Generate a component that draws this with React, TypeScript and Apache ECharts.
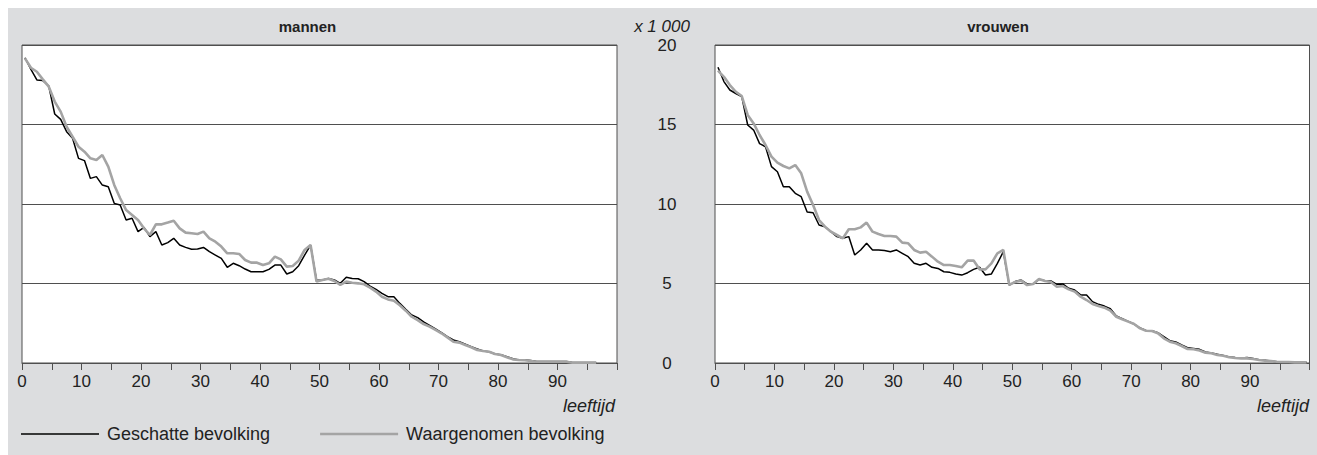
import React, { useEffect, useRef } from "react";
import * as echarts from "echarts";

const FONT = "'Liberation Sans', Arial, Helvetica, sans-serif";

const titles = ["mannen", "vrouwen"];
const seriesNames = ["Geschatte bevolking", "Waargenomen bevolking"];
const yTicks = [0, 5, 10, 15, 20];
const xLabelValues = [0, 10, 20, 30, 40, 50, 60, 70, 80, 90];
const unitLabel = "x 1 000";
const xName = "leeftijd";

// Values x 1 000, by age (0, 1, 2, ...)
const menEstimated = [
  19.2, 18.47, 17.8, 17.76, 17.42, 15.66, 15.32, 14.55, 14.13, 12.87,
  12.73, 11.61, 11.72, 11.19, 11.09, 10.04, 9.94, 8.99, 9.1, 8.26,
  8.53, 7.95, 8.26, 7.42, 7.57, 7.84, 7.42, 7.27, 7.15, 7.17,
  7.27, 7.0, 6.79, 6.58, 6.02, 6.27, 6.12, 5.91, 5.74, 5.74,
  5.74, 5.89, 6.16, 6.16, 5.6, 5.74, 6.12, 6.79, 7.42, 5.2,
  5.22, 5.32, 5.22, 5.01, 5.39, 5.32, 5.3, 5.12, 4.84, 4.63,
  4.38, 4.17, 4.17, 3.75, 3.38, 3.02, 2.85, 2.58, 2.37, 2.14,
  1.91, 1.66, 1.45, 1.34, 1.19, 1.03, 0.88, 0.75, 0.71, 0.57,
  0.52, 0.4, 0.27, 0.19, 0.19, 0.15, 0.1, 0.1, 0.1, 0.1,
  0.1, 0.1, 0.03, 0.03, 0.03, 0.03, 0.03,
];
const menObserved = [
  19.16, 18.57, 18.32, 17.84, 17.38, 16.44, 15.81, 14.86, 14.23, 13.6,
  13.29, 12.87, 12.77, 13.08, 12.35, 11.2, 10.36, 9.62, 9.31, 9.0,
  8.47, 8.05, 8.72, 8.72, 8.83, 8.95, 8.47, 8.2, 8.16, 8.11,
  8.26, 7.84, 7.63, 7.32, 6.9, 6.9, 6.86, 6.48, 6.31, 6.31,
  6.16, 6.27, 6.69, 6.52, 6.06, 6.1, 6.44, 7.11, 7.42, 5.12,
  5.22, 5.3, 5.16, 4.91, 5.12, 5.05, 5.01, 4.95, 4.74, 4.49,
  4.17, 4.0, 3.92, 3.63, 3.29, 2.91, 2.7, 2.45, 2.29, 2.08,
  1.87, 1.61, 1.34, 1.28, 1.13, 0.99, 0.82, 0.75, 0.71, 0.57,
  0.5, 0.36, 0.23, 0.19, 0.17, 0.13, 0.08, 0.08, 0.08, 0.08,
  0.08, 0.08, 0.02, 0.02, 0.02, 0.02, 0.02,
];
const womenEstimated = [
  18.6, 17.7, 17.17, 16.95, 16.75, 14.97, 14.65, 13.8, 13.6, 12.35,
  12.03, 11.09, 11.09, 10.67, 10.46, 9.5, 9.45, 8.68, 8.57, 8.26,
  7.95, 7.84, 7.95, 6.79, 7.11, 7.53, 7.11, 7.11, 7.07, 7.0,
  7.11, 6.9, 6.69, 6.27, 6.16, 6.27, 6.02, 5.95, 5.74, 5.7,
  5.6, 5.53, 5.68, 5.89, 6.02, 5.53, 5.6, 6.27, 7.0, 4.9,
  5.12, 5.22, 4.97, 4.95, 5.26, 5.18, 5.16, 4.95, 4.97, 4.7,
  4.59, 4.28, 4.28, 3.86, 3.69, 3.58, 3.42, 2.96, 2.79, 2.62,
  2.45, 2.2, 2.05, 2.03, 1.91, 1.66, 1.4, 1.32, 1.13, 0.96,
  0.92, 0.86, 0.69, 0.63, 0.55, 0.48, 0.38, 0.34, 0.31, 0.34,
  0.29, 0.21, 0.17, 0.13, 0.08, 0.06, 0.06, 0.04, 0.04, 0.04,
];
const womenObserved = [
  18.39, 18.0, 17.48, 17.06, 16.79, 15.6, 15.07, 14.34, 13.71, 12.98,
  12.6, 12.39, 12.24, 12.45, 11.93, 10.78, 9.94, 8.99, 8.57, 8.26,
  8.05, 7.84, 8.41, 8.41, 8.53, 8.83, 8.26, 8.11, 7.99, 7.99,
  7.95, 7.57, 7.53, 7.11, 6.94, 7.0, 6.69, 6.37, 6.16, 6.16,
  6.1, 6.02, 6.44, 6.44, 5.89, 5.89, 6.27, 6.9, 7.11, 4.91,
  5.1, 5.18, 4.9, 4.97, 5.28, 5.16, 5.1, 4.8, 4.84, 4.63,
  4.49, 4.17, 3.96, 3.71, 3.58, 3.48, 3.29, 2.91, 2.75, 2.6,
  2.45, 2.18, 2.03, 2.01, 1.87, 1.55, 1.34, 1.24, 1.07, 0.88,
  0.86, 0.78, 0.65, 0.61, 0.5, 0.46, 0.36, 0.31, 0.29, 0.29,
  0.25, 0.19, 0.15, 0.13, 0.08, 0.06, 0.06, 0.04, 0.04, 0.04,
];

const AXIS = "#4f4f4f";
const TEXT = "#222222";
const BLACK = "#000000";
const GREY = "#a4a4a4";

// each age is drawn at the middle of its one-year interval
const toPoints = (arr: number[]) => arr.map((v, age) => [age + 0.5, v]);

export default function App() {
  const ref = useRef<HTMLDivElement>(null);
  useEffect(() => {
    if (!ref.current) return;
    const chart = echarts.init(ref.current, undefined, { renderer: "svg" });
    const grids = [
      { left: 14, top: 37, width: 595, height: 318 },
      { left: 707, top: 37, width: 594.5, height: 318 },
    ];
    const xAxis = grids.map((_, i) => ({
      type: "value",
      gridIndex: i,
      min: 0,
      max: 100,
      interval: 5,
      axisLine: { show: true, lineStyle: { color: AXIS, width: 1 } },
      axisTick: { show: true, length: 7, lineStyle: { color: AXIS, width: 1 } },
      axisLabel: {
        margin: 10,
        fontSize: 17,
        fontFamily: FONT,
        color: TEXT,
        formatter: (v: number) => (xLabelValues.includes(v) ? String(v) : ""),
      },
      splitLine: { show: false },
    }));
    const yAxis = grids.map((_, i) => ({
      type: "value",
      gridIndex: i,
      min: yTicks[0],
      max: yTicks[yTicks.length - 1],
      interval: 5,
      axisLine: { show: false },
      axisTick: { show: false },
      axisLabel: {
        show: i === 1,
        align: "center",
        margin: 48,
        fontSize: 17,
        fontFamily: FONT,
        color: TEXT,
      },
      splitLine: { show: true, lineStyle: { color: AXIS, width: 1 } },
    }));
    const data = [
      [menEstimated, menObserved],
      [womenEstimated, womenObserved],
    ];
    const series: any[] = [];
    data.forEach((pair, gi) => {
      pair.forEach((arr, si) => {
        series.push({
          type: "line",
          name: seriesNames[si],
          xAxisIndex: gi,
          yAxisIndex: gi,
          data: toPoints(arr),
          symbol: "none",
          showSymbol: false,
          clip: true,
          z: si === 0 ? 3 : 4,
          lineStyle: { color: si === 0 ? BLACK : GREY, width: si === 0 ? 1.5 : 2.6 },
          itemStyle: { color: si === 0 ? BLACK : GREY },
        });
      });
    });

    const titleX = [299.5, 990];
    const nameRight = [607, 1301];
    const graphic: any[] = [];
    titles.forEach((t, i) => {
      graphic.push({
        type: "text",
        x: titleX[i],
        y: 18.5,
        style: {
          text: t,
          align: "center",
          verticalAlign: "middle",
          fontSize: 15,
          fontWeight: "bold",
          fontFamily: FONT,
          fill: TEXT,
        },
      });
      graphic.push({
        type: "text",
        x: nameRight[i],
        y: 398,
        style: {
          text: xName,
          align: "right",
          verticalAlign: "middle",
          fontSize: 18,
          fontStyle: "italic",
          fontFamily: FONT,
          fill: TEXT,
        },
      });
    });
    graphic.push({
      type: "text",
      x: 654,
      y: 18.5,
      style: {
        text: unitLabel,
        align: "center",
        verticalAlign: "middle",
        fontSize: 17,
        fontStyle: "italic",
        fontFamily: FONT,
        fill: TEXT,
      },
    });

    chart.setOption({
      animation: false,
      backgroundColor: "#dcdddf",
      textStyle: { fontFamily: FONT },
      grid: grids.map((g) => ({
        ...g,
        show: true,
        backgroundColor: "#ffffff",
        borderColor: AXIS,
        borderWidth: 1,
        containLabel: false,
      })),
      xAxis,
      yAxis,
      legend: {
        data: [
          { name: seriesNames[0], icon: "path://M0,0H100V2H0Z", itemStyle: { color: BLACK } },
          { name: seriesNames[1], icon: "path://M0,0H100V3.4H0Z", itemStyle: { color: GREY } },
        ],
        left: 13,
        top: 417,
        padding: 0,
        itemWidth: 78,
        itemHeight: 20,
        itemGap: 50,
        symbolKeepAspect: true,
        selectedMode: false,
        textStyle: { fontSize: 18, fontFamily: FONT, color: TEXT, padding: [0, 0, 0, 3] },
      },
      graphic,
      series,
    });
    return () => chart.dispose();
  }, []);
  return (
    <div
      ref={ref}
      style={{ position: "absolute", left: 8, top: 8, width: 1309, height: 447 }}
    />
  );
}
